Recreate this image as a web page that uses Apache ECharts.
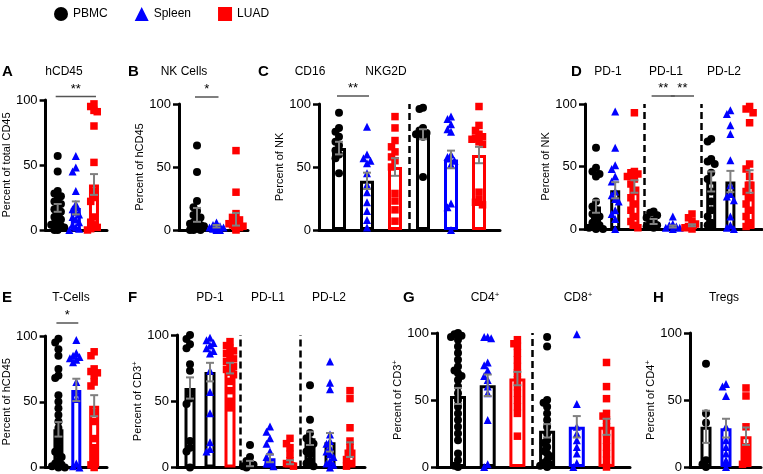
<!DOCTYPE html>
<html><head><meta charset="utf-8">
<script src="https://cdn.jsdelivr.net/npm/echarts@6/dist/echarts.min.js"></script>
<style>html,body{margin:0;padding:0;background:#fff}#c{width:763px;height:474px}</style>
</head><body><div id="c"></div>
<script>
// ---------- DATA ----------
const groupNames = ['PBMC', 'Spleen', 'LUAD'];
const yTicks = [0, 50, 100];

// A hCD45
const A_PBMC = [57, 45, 30, 28, 26, 24, 22, 20, 18, 16, 14, 12, 10, 8, 6, 5, 4, 3, 2, 1, 0, 0];
const A_Spleen = [57, 48, 45, 30, 20, 16, 14, 12, 10, 8, 6, 4, 2, 1, 0];
const A_LUAD = [97, 95, 92, 91, 80, 52, 30, 25, 22, 10, 6, 4, 2, 1, 0];
const A_mean = [17, 17, 35];
const A_sem = [3, 5, 8];

// B NK Cells
const B_PBMC = [67, 46, 23, 18, 15, 12, 10, 8, 6, 5, 4, 3, 2, 1, 1, 0, 0, 0];
const B_Spleen = [6, 4, 3, 2, 2, 1, 1, 0, 0];
const B_LUAD = [63, 30, 13, 10, 8, 6, 5, 4, 3, 2, 1, 0];
const B_mean = [12, 3, 8.5];
const B_sem = [5.5, 1, 5];

// C CD16 / NKG2D
const C_CD16_PBMC = [93, 81, 78, 74, 70, 67, 63, 60, 57, 45];
const C_CD16_Spleen = [82, 60, 57, 55, 53, 45, 36, 30, 22, 15, 8, 2];
const C_CD16_LUAD = [90, 81, 71, 66, 62, 58, 55, 50, 29, 23, 16, 7];
const C_NKG2D_PBMC = [97, 96, 81, 79, 77, 76, 74, 42];
const C_NKG2D_Spleen = [90, 88, 84, 80, 78, 60, 58, 55, 52, 21, 18, 0];
const C_NKG2D_LUAD = [98, 83, 79, 76, 74, 73, 72, 70, 68, 30, 24, 22, 20];
const C_mean = [65, 39, 50, 76, 56, 59.5];
const C_sem = [5, 6.5, 7, 4, 7, 6.5];

// D PD-1 / PD-L1 / PD-L2 (NK)
const D_PD1_PBMC = [65, 49, 46, 44, 42, 22, 18, 15, 12, 10, 8, 5, 3, 2, 1, 0, 0];
const D_PD1_Spleen = [94, 65, 51, 48, 42, 38, 30, 27, 24, 22, 15, 12, 8, 0];
const D_PD1_LUAD = [93, 46, 45, 44, 42, 40, 36, 30, 25, 20, 15, 10, 6, 3, 1];
const D_PDL1_PBMC = [14, 13, 11, 9, 7, 5, 3, 2, 1];
const D_PDL1_Spleen = [10, 4, 3, 2, 1, 1, 0];
const D_PDL1_LUAD = [12, 9, 6, 4, 2, 1, 0];
const D_PDL2_PBMC = [72, 70, 56, 54, 52, 45, 40, 30, 22, 15, 10, 5, 3];
const D_PDL2_Spleen = [95, 92, 83, 76, 55, 35, 28, 26, 23, 10, 3, 1, 0];
const D_PDL2_LUAD = [98, 96, 93, 85, 52, 48, 42, 35, 30, 25, 20, 15, 10, 5, 2];
const D_mean = [18, 31, 34, 6, 2, 3, 38, 38, 38];
const D_sem = [5, 6.5, 5, 2, 0.8, 0.8, 8, 8.5, 9];

// E T-Cells
const E_PBMC = [98, 95, 90, 85, 75, 70, 68, 55, 50, 45, 40, 35, 30, 25, 20, 15, 12, 10, 8, 5, 3, 2, 1, 0, 0];
const E_Spleen = [97, 87, 85, 84, 83, 82, 80, 65, 57, 52, 3, 1, 0];
const E_LUAD = [88, 85, 75, 73, 72, 70, 65, 62, 42, 35, 22, 15, 10, 5, 2, 0];
const E_mean = [29, 59, 47];
const E_sem = [5.5, 8.5, 8];

// F PD-1 / PD-L1 / PD-L2 (CD3+)
const F_PD1_PBMC = [100, 97, 93, 90, 78, 73, 57, 52, 48, 20, 15, 12, 0];
const F_PD1_Spleen = [98, 96, 94, 92, 90, 88, 86, 73, 57, 41, 19, 14, 12];
const F_PD1_LUAD = [95, 92, 90, 88, 86, 84, 82, 80, 78, 76, 74, 72, 70, 65, 58, 50, 45];
const F_PDL1_PBMC = [17, 8, 5, 3, 2, 1, 0];
const F_PDL1_Spleen = [31, 27, 22, 18, 12, 8, 5, 3, 1];
const F_PDL1_LUAD = [22, 18, 15, 10, 5, 3, 1];
const F_PDL2_PBMC = [62, 36, 26, 22, 20, 18, 15, 12, 10, 5, 3, 1];
const F_PDL2_Spleen = [80, 64, 59, 25, 20, 18, 15, 12, 10, 8, 5, 3, 2, 0];
const F_PDL2_LUAD = [58, 52, 30, 20, 15, 10, 6, 3, 1];
const F_mean = [60, 72, 75, 3, 7, 4, 22, 19, 13.5];
const F_sem = [8, 7, 4, 2, 3, 1.5, 5, 7, 5.5];

// G CD4+ / CD8+
const G_CD4_PBMC = [100, 99, 98, 97, 95, 90, 85, 80, 75, 72, 70, 68, 65, 60, 55, 50, 45, 40, 35, 30, 25, 20, 10, 5, 1, 0];
const G_CD4_Spleen = [97, 97, 96, 78, 76, 72, 68, 65, 60, 55, 35, 2, 0];
const G_CD4_LUAD = [95, 92, 90, 85, 80, 75, 70, 65, 60, 55, 50, 45, 40, 23];
const G_CD8_PBMC = [97, 90, 50, 48, 45, 40, 35, 30, 25, 20, 18, 15, 12, 10, 8, 5, 3, 2, 1, 0];
const G_CD8_Spleen = [99, 47, 30, 25, 20, 15, 10, 3, 0];
const G_CD8_LUAD = [78, 60, 51, 40, 38, 35, 30, 25, 20, 15, 10, 5, 0];
const G_mean = [53, 61, 66, 27, 30, 30];
const G_sem = [6, 8, 5, 5, 8, 6];

// H Tregs
const H_PBMC = [77, 40, 33, 5, 2, 0];
const H_Spleen = [62, 60, 53, 30, 20, 15, 10, 5, 0];
const H_LUAD = [59, 53, 30, 15, 10, 5, 2];
const H_mean = [30, 29, 23];
const H_sem = [12, 7, 6.5];

// ---------- LAYOUT / STYLE ----------
const COLORS = ['#000000', '#0000ff', '#ff0000'];
const SYMBOLS = ['circle', 'triangle', 'rect'];
const FONT = 'Liberation Sans, Arial, Helvetica, sans-serif';

const panels = [
  { box: [41, 100, 107, 230], c0: 54, sp: 19.5, barW: 10, yName: 'Percent of total CD45', nameOff: 33,
    groups: [A_PBMC, A_Spleen, A_LUAD], means: A_mean, sems: A_sem, kinds: [0, 1, 2], border: [0, 1, 2],
    dashes: [], sig: [[0, 2, '**', 3.5]] },
  { box: [179, 104, 248, 230], c0: 197, sp: 19.5, barW: 10, yName: 'Percent of hCD45', nameOff: 31,
    groups: [B_PBMC, B_Spleen, B_LUAD], means: B_mean, sems: B_sem, kinds: [0, 1, 2], border: [0, 1, 2],
    dashes: [], sig: [[0, 1, '*', 7]] },
  { box: [319, 104, 500, 230], c0: 339, sp: 28, barW: 14, yName: 'Percent of NK', nameOff: 35,
    groups: [C_CD16_PBMC, C_CD16_Spleen, C_CD16_LUAD, C_NKG2D_PBMC, C_NKG2D_Spleen, C_NKG2D_LUAD],
    means: C_mean, sems: C_sem, kinds: [0, 1, 2, 0, 1, 2], border: [0, 0, 2, 0, 1, 2],
    dashes: [2.5], sig: [[0, 1, '**', 8]] },
  { box: [585, 104, 762, 229], c0: 596, sp: 19.2, barW: 10, yName: 'Percent of NK', nameOff: 37,
    groups: [D_PD1_PBMC, D_PD1_Spleen, D_PD1_LUAD, D_PDL1_PBMC, D_PDL1_Spleen, D_PDL1_LUAD, D_PDL2_PBMC, D_PDL2_Spleen, D_PDL2_LUAD],
    means: D_mean, sems: D_sem, kinds: [0, 1, 2, 0, 1, 2, 0, 1, 2], border: [0, 0, 2, 0, 1, 2, 0, 0, 2],
    dashes: [2.5, 5.5], sig: [[3, 4, '**', 8], [4, 5, '**', 8]] },
  { box: [40, 336, 107, 469], c0: 54, sp: 19.5, barW: 10, yName: 'Percent of hCD45', nameOff: 32,
    groups: [E_PBMC, E_Spleen, E_LUAD], means: E_mean, sems: E_sem, kinds: [0, 1, 2], border: [0, 1, 2],
    dashes: [], sig: [[0, 1, '*', 13]] },
  { box: [177, 335, 365, 468], c0: 190, sp: 20, barW: 11, yName: 'Percent of CD3', sup: '+', nameOff: 30,
    groups: [F_PD1_PBMC, F_PD1_Spleen, F_PD1_LUAD, F_PDL1_PBMC, F_PDL1_Spleen, F_PDL1_LUAD, F_PDL2_PBMC, F_PDL2_Spleen, F_PDL2_LUAD],
    means: F_mean, sems: F_sem, kinds: [0, 1, 2, 0, 1, 2, 0, 1, 2], border: [0, 0, 2, 0, 1, 2, 0, 0, 2],
    dashes: [2.5, 5.5], sig: [] },
  { box: [437, 333, 630, 467], c0: 458, sp: 29.7, barW: 16, yName: 'Percent of CD3', sup: '+', nameOff: 33,
    groups: [G_CD4_PBMC, G_CD4_Spleen, G_CD4_LUAD, G_CD8_PBMC, G_CD8_Spleen, G_CD8_LUAD],
    means: G_mean, sems: G_sem, kinds: [0, 1, 2, 0, 1, 2], border: [0, 0, 2, 0, 1, 2],
    dashes: [2.5], sig: [] },
  { box: [690, 333, 761, 467], c0: 706, sp: 20, barW: 11, yName: 'Percent of CD4', sup: '+', nameOff: 32,
    groups: [H_PBMC, H_Spleen, H_LUAD], means: H_mean, sems: H_sem, kinds: [0, 1, 2], border: [0, 1, 2],
    dashes: [], sig: [] }
];

// panel letters and titles: [text, x, y, superscript]
const letters = [['A', 2, 72], ['B', 128, 72], ['C', 258, 72], ['D', 571, 72], ['E', 2, 298], ['F', 128, 298], ['G', 403, 298], ['H', 653, 298]];
const titles = [
  ['hCD45', 64, 72], ['NK Cells', 184, 72], ['CD16', 310, 72], ['NKG2D', 386, 72],
  ['PD-1', 608, 72], ['PD-L1', 666, 72], ['PD-L2', 724, 72],
  ['T-Cells', 71, 298], ['PD-1', 210, 298], ['PD-L1', 268, 298], ['PD-L2', 329, 298],
  ['CD4', 485, 298, '+'], ['CD8', 578, 298, '+'], ['Tregs', 724, 298]
];

// simple beeswarm offsets (pixels) so overlapping points spread sideways
function swarm(values, pxPerUnit, stepPx, maxK) {
  const placed = [];
  const order = [0];
  for (let k = 1; k <= maxK; k++) { order.push(-k, k); }
  return values.map(v => {
    let chosen = null;
    for (const k of order) {
      if (!placed.some(p => p.k === k && Math.abs(p.v - v) * pxPerUnit < 6.5)) { chosen = k; break; }
    }
    if (chosen === null) {
      let best = 0, bestCount = Infinity;
      for (const k of order) {
        const c = placed.filter(p => p.k === k && Math.abs(p.v - v) * pxPerUnit < 6.5).length;
        if (c < bestCount) { bestCount = c; best = k; }
      }
      chosen = best;
    }
    placed.push({ v, k: chosen });
    return chosen * stepPx;
  });
}

const grids = [], xAxes = [], yAxes = [], series = [];
panels.forEach((p, gi) => {
  const [l, t, r, b] = p.box;
  grids.push({ left: l, top: t, width: r - l, height: b - t });
  xAxes.push({
    type: 'value', gridIndex: gi, min: -(p.c0 - l) / p.sp, max: (r - p.c0) / p.sp,
    axisLine: { show: true, onZero: false, lineStyle: { color: '#000', width: 3 } },
    axisTick: { show: false }, axisLabel: { show: false }, splitLine: { show: false }
  });
  const nameText = p.sup ? '{n|' + p.yName + '}{s|' + p.sup + '}' : '{n|' + p.yName + '}';
  yAxes.push({
    type: 'value', gridIndex: gi, min: yTicks[0], max: yTicks[yTicks.length - 1], interval: yTicks[1] - yTicks[0],
    axisLine: { show: true, onZero: false, lineStyle: { color: '#000', width: 3 } },
    axisTick: { show: true, length: 6, lineStyle: { color: '#000', width: 2.5 } },
    axisLabel: { color: '#000', fontSize: 13, fontFamily: FONT, margin: 8 },
    splitLine: { show: false },
    name: nameText, nameLocation: 'middle', nameRotate: 90, nameGap: p.nameOff - 6,
    nameTextStyle: {
      fontFamily: FONT, color: '#000',
      rich: { n: { fontSize: 11, fontFamily: FONT, color: '#000', lineHeight: 14 },
              s: { fontSize: 8, fontFamily: FONT, color: '#000', lineHeight: 8, verticalAlign: 'top' } }
    }
  });
  const pxPerUnit = (b - t) / 100;
  series.push({
    type: 'bar', name: 'bars' + gi, xAxisIndex: gi, yAxisIndex: gi, barWidth: p.barW, silent: true, z: 2,
    data: p.means.map((m, i) => ({ value: [i, m], itemStyle: { color: '#fff', borderColor: COLORS[p.border[i]], borderWidth: 3 } })),
    markLine: p.dashes.length ? {
      silent: true, symbol: 'none', label: { show: false },
      lineStyle: { color: '#000', width: 2.5, type: [7, 4] },
      data: p.dashes.map(d => ({ xAxis: d }))
    } : undefined
  });
  [0, 1, 2].forEach(kind => {
    const data = [];
    p.groups.forEach((vals, i) => {
      if (p.kinds[i] !== kind) return;
      const offs = swarm(vals, pxPerUnit, 3.5, Math.max(1, Math.floor(p.barW / 5)));
      vals.forEach((v, j) => data.push([i + offs[j] / p.sp, v]));
    });
    series.push({
      type: 'scatter', name: groupNames[kind], xAxisIndex: gi, yAxisIndex: gi, clip: false, z: 3,
      symbol: SYMBOLS[kind], symbolSize: kind === 2 ? 7.5 : 8,
      itemStyle: { color: COLORS[kind], opacity: 1 }, data
    });
  });
  series.push({
    type: 'custom', xAxisIndex: gi, yAxisIndex: gi, clip: false, z: 4, silent: true,
    data: p.means.map((m, i) => [i, m - p.sems[i], m + p.sems[i]]),
    encode: { x: 0, y: [1, 2] },
    renderItem: (params, api) => {
      const lo = api.coord([api.value(0), api.value(1)]);
      const hi = api.coord([api.value(0), api.value(2)]);
      const w = 4;
      const st = { stroke: '#808080', lineWidth: 2 };
      return { type: 'group', children: [
        { type: 'line', shape: { x1: lo[0], y1: lo[1], x2: hi[0], y2: hi[1] }, style: st },
        { type: 'line', shape: { x1: lo[0] - w, y1: lo[1], x2: lo[0] + w, y2: lo[1] }, style: st },
        { type: 'line', shape: { x1: hi[0] - w, y1: hi[1], x2: hi[0] + w, y2: hi[1] }, style: st }
      ] };
    }
  });
  if (p.sig.length) {
    series.push({
      type: 'custom', xAxisIndex: gi, yAxisIndex: gi, clip: false, z: 4, silent: true,
      data: p.sig.map(s => [s[0], s[1], 100]),
      renderItem: (params, api) => {
        const s = p.sig[params.dataIndex];
        const a = api.coord([api.value(0), api.value(2)]);
        const c = api.coord([api.value(1), api.value(2)]);
        const y = a[1] - s[3];
        return { type: 'group', children: [
          { type: 'line', shape: { x1: a[0] - 2, y1: y, x2: c[0] + 2, y2: y }, style: { stroke: '#555', lineWidth: 1.5 } },
          { type: 'text', style: { text: s[2], x: (a[0] + c[0]) / 2, y: y - 1, align: 'center', verticalAlign: 'bottom',
              fontSize: 13, fontFamily: FONT, fill: '#000' } }
        ] };
      }
    });
  }
});

const graphics = [];
letters.forEach(([t, x, y]) => graphics.push({ type: 'text', x, y, style: { text: t, fontSize: 15, fontWeight: 'bold', fontFamily: FONT, fill: '#000', verticalAlign: 'middle' } }));
titles.forEach(([t, x, y, sup]) => graphics.push({ type: 'text', x, y, style: {
  text: sup ? '{n|' + t + '}{s|' + sup + '}' : '{n|' + t + '}', align: 'center', verticalAlign: 'middle',
  rich: { n: { fontSize: 12, fontFamily: FONT, fill: '#000', lineHeight: 14 },
          s: { fontSize: 8, fontFamily: FONT, fill: '#000', lineHeight: 8, verticalAlign: 'top' } } } }));

const chart = echarts.init(document.getElementById('c'), null, { renderer: 'canvas' });
chart.setOption({
  animation: false,
  backgroundColor: '#fff',
  legend: {
    left: 49, top: 2, itemWidth: 14, itemHeight: 14, itemGap: 27, selectedMode: false,
    textStyle: { fontSize: 12, fontFamily: FONT, color: '#000' },
    data: [{ name: 'PBMC', icon: 'circle' }, { name: 'Spleen', icon: 'triangle' }, { name: 'LUAD', icon: 'rect' }]
  },
  grid: grids, xAxis: xAxes, yAxis: yAxes, series, graphic: graphics
});
</script></body></html>
